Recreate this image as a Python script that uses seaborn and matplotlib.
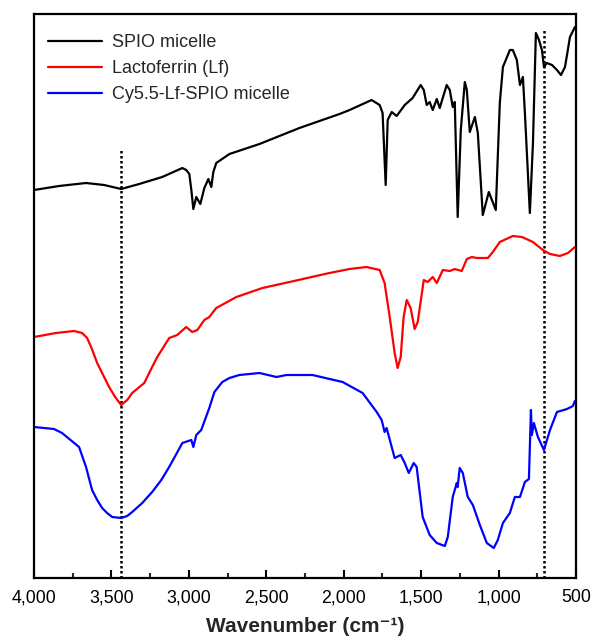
import matplotlib
matplotlib.use("Agg")
import matplotlib.pyplot as plt
import matplotlib.ticker as mticker
import seaborn as sns
import pandas as pd

# ---- data (transmittance, arbitrary offset units) ----
spio_wn = [4000,3838,3664,3547,3437,3321,3172,3042,3017,2997,2984,2971,2952,2926,2900,2874,2855,2842,2823,2738,
           2544,2286,2027,1962,1820,1768,1749,1729,1716,1690,1658,1606,1555,1503,1483,1464,1445,1425,1399,1380,
           1335,1315,1296,1283,1264,1244,1218,1205,1186,1153,1134,1102,1063,1018,992,972,927,908,882,862,
           843,830,798,778,759,739,720,707,688,655,623,597,571,539,507]
spio_t = [388,392,395,393,389,394,401,410,408,404,388,369,381,374,390,399,391,406,415,424,
          434,450,464,468,478,473,465,393,458,466,462,473,480,493,488,473,476,468,479,470,
          493,488,471,476,361,448,496,488,446,461,445,363,386,368,475,511,528,528,518,493,
          501,465,365,435,545,538,528,511,515,513,508,503,511,541,551]

lf_wn = [4000,3858,3741,3689,3657,3631,3592,3560,3515,3476,3437,3398,3366,3288,3237,3204,3127,3075,3017,2978,
         2945,2900,2868,2823,2693,2525,2350,2092,1962,1852,1768,1736,1703,1671,1652,1632,1613,1593,1568,1542,
         1522,1483,1458,1425,1399,1360,1315,1283,1238,1205,1173,1141,1069,1037,992,908,849,778,714,668,
         604,552,507]
lf_t = [241,245,247,245,240,231,215,205,191,181,173,178,185,195,211,221,240,243,251,246,
        248,258,261,270,281,290,296,305,309,311,308,295,261,225,210,221,261,278,270,249,
        256,298,296,301,295,308,307,309,307,319,321,320,320,326,336,342,341,336,328,324,
        322,325,331]

cy_wn = [4000,3871,3819,3709,3664,3625,3592,3560,3528,3495,3437,3398,3366,3301,3237,3178,3127,3042,2984,2971,
         2952,2920,2868,2835,2784,2738,2674,2544,2434,2370,2202,2007,1878,1787,1755,1736,1723,1671,1632,1606,
         1580,1548,1529,1490,1445,1399,1347,1328,1296,1270,1264,1251,1231,1199,1166,1121,1076,1031,1005,972,
         927,895,862,830,804,791,785,772,746,707,668,623,558,520,507]
cy_t = [151,149,145,131,111,88,78,70,65,61,60,62,66,75,86,98,111,135,138,131,
        143,148,170,186,196,200,203,205,201,203,203,196,185,166,158,146,150,120,123,115,
        105,115,111,61,43,35,32,41,81,95,91,110,105,81,73,53,35,30,38,55,
        65,81,81,96,99,168,143,155,141,128,148,166,169,172,177]

series_names = ["SPIO micelle", "Lactoferrin (Lf)", "Cy5.5-Lf-SPIO micelle"]
series_colors = ["#000000", "#ff0000", "#0000ff"]
ref_lines = [3437, 707]
ref_tops = [428, 548]

x_major = [4000, 3500, 3000, 2500, 2000, 1500, 1000, 500]

# ---- build long table ----
frames = []
for name, wn, t in zip(series_names, [spio_wn, lf_wn, cy_wn], [spio_t, lf_t, cy_t]):
    frames.append(pd.DataFrame({"wn": wn, "t": t, "sample": name}))
df = pd.concat(frames, ignore_index=True)

sns.set_theme(style="white")
plt.rcParams["font.family"] = ["Liberation Sans", "DejaVu Sans"]

fig = plt.figure(figsize=(5.91, 6.37), dpi=100)
ax = fig.add_axes([34/591, 1 - 578/637, (576-34)/591, (578-14)/637])

sns.lineplot(data=df, x="wn", y="t", hue="sample", hue_order=series_names,
             palette=series_colors, estimator=None, sort=False, linewidth=1.6, ax=ax)

for xv, top in zip(ref_lines, ref_tops):
    ax.plot([xv, xv], [0, top], color="black", linestyle=(0, (1, 1)), linewidth=1.8, zorder=1)

ax.set_xlim(4000, 500)
ax.set_ylim(0, 564)
ax.set_yticks([])
ax.set_ylabel("")
ax.xaxis.set_major_locator(mticker.FixedLocator(x_major))
ax.xaxis.set_minor_locator(mticker.MultipleLocator(250))
ax.xaxis.set_major_formatter(mticker.FuncFormatter(lambda v, p: f"{int(v):,}"))
ax.tick_params(axis="x", which="major", direction="in", length=6, width=1.5,
               labelsize=12.8, pad=8, bottom=True, colors="black")
ax.tick_params(axis="x", which="minor", direction="in", length=3.5, width=1.5, bottom=True)
ax.set_xlabel("Wavenumber (cm⁻¹)", fontsize=15, fontweight="bold", labelpad=8)

for s in ax.spines.values():
    s.set_color("black")
    s.set_linewidth(1.6)

leg = ax.legend(loc="upper left", frameon=False, fontsize=13, handlelength=2.95,
                handletextpad=0.55, labelspacing=0.5, borderaxespad=0.4,
                bbox_to_anchor=(0.0, 0.99))
for line in leg.get_lines():
    line.set_linewidth(1.6)

fig.savefig("out.png", dpi=100)
